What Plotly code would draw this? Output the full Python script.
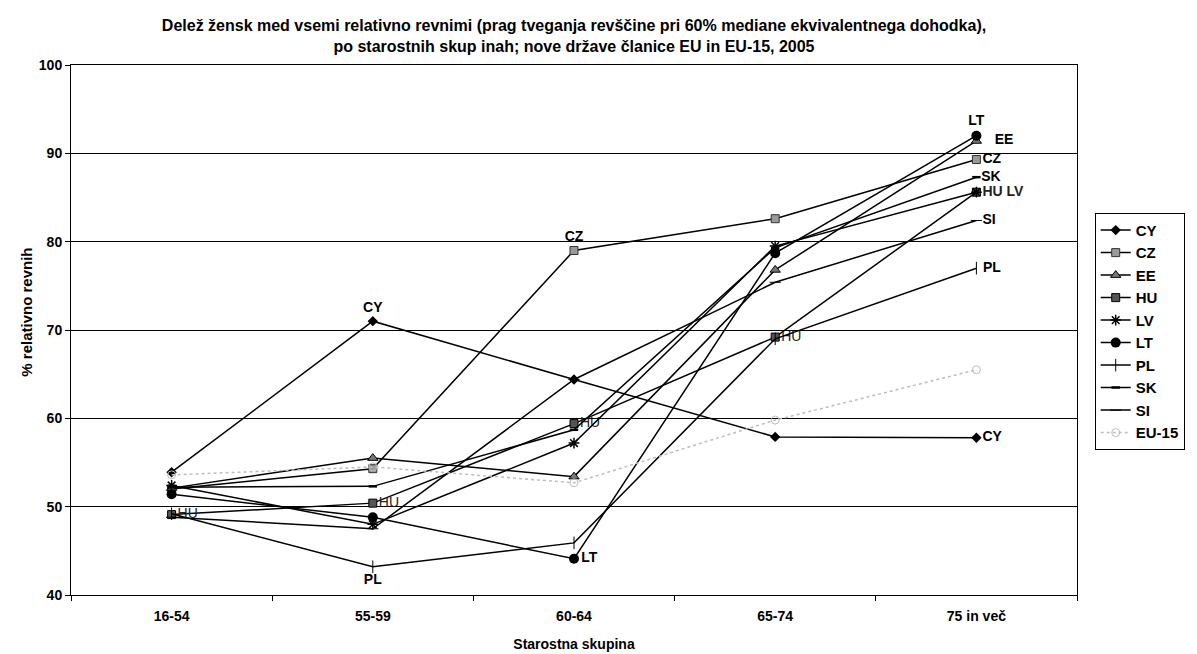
import plotly.graph_objects as go

categories = ["16-54", "55-59", "60-64", "65-74", "75 in več"]

cy = [53.9, 71.0, 64.4, 57.9, 57.8]
cz = [52.0, 54.3, 79.0, 82.6, 89.3]
ee = [52.1, 55.5, 53.4, 76.8, 91.4]
hu = [49.1, 50.4, 59.4, 69.2, 85.6]
lv = [52.4, 48.0, 57.2, 79.5, 85.6]
lt = [51.4, 48.8, 44.1, 78.7, 92.0]
pl = [49.2, 43.2, 45.9, 69.0, 77.0]
sk = [52.2, 52.3, 58.7, 79.3, 87.3]
si = [48.8, 47.5, 64.4, 75.4, 82.4]
eu15 = [53.6, 54.5, 52.7, 59.8, 65.5]

FONT = "Liberation Sans, Arial, sans-serif"

# point labels (country codes) shown next to selected points
cy_text = ["", "<b>CY</b>", "", "", "<b>CY</b>"]
cy_pos = ["middle right", "top center", "middle right", "middle right", "middle right"]
cz_text = ["", "", "<b>CZ</b>", "", "<b>CZ</b>"]
cz_pos = ["middle right", "middle right", "top center", "middle right", "middle right"]
ee_text = ["", "", "", "", "<b>   EE</b>"]
hu_text = ["HU", "HU", "HU", "HU", "<b>HU LV</b>"]
lt_text = ["", "", "<b>LT</b>", "", "<b>LT</b>"]
lt_pos = ["middle right", "middle right", "middle right", "middle right", "top center"]
pl_text = ["", "<b>PL</b>", "", "", "<b>PL</b>"]
pl_pos = ["middle right", "bottom center", "middle right", "middle right", "middle right"]
sk_text = ["", "", "", "", "<b>SK</b>"]
si_text = ["", "", "", "", "<b>SI</b>"]

fig = go.Figure()


def add(name, y, marker, line=None, text=None, pos="middle right", tcolor="black"):
    line = line or dict(color="black", width=1.5)
    fig.add_trace(go.Scatter(
        x=categories, y=y, name=name,
        mode="lines+markers+text" if text else "lines+markers",
        text=text, textposition=pos,
        textfont=dict(family=FONT, size=14, color=tcolor),
        line=line, marker=marker, cliponaxis=False,
    ))


add("CY", cy, dict(symbol="diamond", size=8, color="black"), text=cy_text, pos=cy_pos)
add("CZ", cz, dict(symbol="square", size=8, color="#9a9a9a",
                   line=dict(color="#333", width=1)), text=cz_text, pos=cz_pos)
add("EE", ee, dict(symbol="triangle-up", size=9, color="#777",
                   line=dict(color="black", width=1)), text=ee_text)
add("HU", hu, dict(symbol="square", size=8, color="#555",
                   line=dict(color="black", width=1)), text=hu_text, tcolor="#222")
add("LV", lv, dict(symbol="asterisk-open", size=9,
                   line=dict(color="black", width=1.5)))
add("LT", lt, dict(symbol="circle", size=10, color="black"), text=lt_text, pos=lt_pos)
add("PL", pl, dict(symbol="line-ns-open", size=9,
                   line=dict(color="black", width=1)), text=pl_text, pos=pl_pos)
add("SK", sk, dict(symbol="line-ew-open", size=6,
                   line=dict(color="black", width=2.5)), text=sk_text)
add("SI", si, dict(symbol="line-ew-open", size=8,
                   line=dict(color="black", width=1)), text=si_text)
add("EU-15", eu15, dict(symbol="circle-open", size=8,
                        line=dict(color="#c8c8c8", width=1)),
    line=dict(color="#bdbdbd", width=1.5, dash="dot"))

fig.update_layout(
    width=1197, height=654,
    margin=dict(l=71, r=105, t=65, b=59),
    paper_bgcolor="white", plot_bgcolor="white",
    font=dict(family=FONT, size=14, color="black"),
    title=dict(
        text="<b>Delež žensk med vsemi relativno revnimi (prag tveganja revščine pri 60% mediane ekvivalentnega dohodka),<br>po starostnih skup inah; nove države članice EU in EU-15, 2005</b>",
        x=0.5, xanchor="center", xref="paper",
        y=1 - 31 / 654, yanchor="middle", yref="container",
        font=dict(family=FONT, size=16),
    ),
    xaxis=dict(
        type="category", tickson="boundaries", automargin=False,
        showline=True, linecolor="black", linewidth=1, mirror=True,
        ticks="outside", ticklen=5, tickcolor="black", ticklabelstandoff=8,
        showgrid=False, tickfont=dict(family=FONT, size=14, weight="bold"),
        title=dict(text="<b>Starostna skupina</b>", font=dict(family=FONT, size=14), standoff=16),
        range=[-0.5, 4.5],
    ),
    yaxis=dict(
        range=[40, 100], dtick=10, automargin=False,
        showline=True, linecolor="black", linewidth=1, mirror=True,
        ticks="outside", ticklen=5, tickcolor="black",
        showgrid=True, gridcolor="black", gridwidth=1, zeroline=False,
        tickfont=dict(family=FONT, size=14, weight="bold"),
    ),
    annotations=[dict(
        text="<b>% relativno revnih</b>", textangle=-90,
        xref="paper", yref="paper", x=-46 / 1021, y=(595 - 312) / 530,
        xanchor="center", yanchor="middle", showarrow=False,
        font=dict(family=FONT, size=15),
    )],
    legend=dict(
        x=1.0176, xanchor="left", y=0.721, yanchor="top",
        bordercolor="black", borderwidth=1, bgcolor="white",
        font=dict(family=FONT, size=15, weight="bold"),
        itemwidth=30, tracegroupgap=0,
    ),
    showlegend=True,
)

fig.write_html("out.html")
